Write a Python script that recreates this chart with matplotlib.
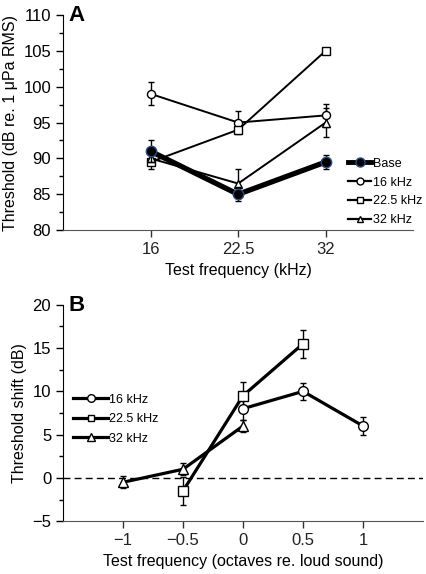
import numpy as np
import matplotlib
matplotlib.use('Agg')
import matplotlib.pyplot as plt
from matplotlib.ticker import MultipleLocator
from matplotlib.lines import Line2D

plt.rcParams['font.family'] = ['Liberation Sans', 'DejaVu Sans']

# panel A: thresholds (dB re. 1 uPa RMS) at each test frequency
freq_labels = ['16', '22.5', '32']
base = [91, 85, 89.5]
base_err = [1.5, 1.0, 1.0]
exp16 = [99, 95, 96]
exp16_err = [1.6, 1.6, 1.6]
exp22 = [89.5, 94, 105]
exp22_err = [1.0, 0.5, 0.4]
exp32 = [90, 86.5, 95]
exp32_err = [0.8, 2.0, 2.0]

# panel B: threshold shift vs octaves re. loud sound
oct16 = [0, 0.5, 1]
shift16 = [8, 10, 6]
shift16_err = [1.3, 1.0, 1.0]
oct22 = [-0.5, 0, 0.5]
shift22 = [-1.5, 9.5, 15.5]
shift22_err = [1.6, 1.6, 1.6]
oct32 = [-1, -0.5, 0]
shift32 = [-0.5, 1.0, 6.0]
shift32_err = [0.7, 0.7, 0.7]

fig = plt.figure(figsize=(4.26, 5.74), dpi=100)
axA = fig.add_axes([0.148, 0.599, 0.822, 0.375])
axB = fig.add_axes([0.148, 0.092, 0.845, 0.377])

x = np.arange(len(freq_labels))
ekw = dict(ecolor='black', elinewidth=1, capsize=2, capthick=1)

axA.errorbar(x, base, yerr=base_err, color='black', lw=3.8, marker='o', ms=7.5,
             mfc='black', mec='#2b4d7e', mew=1, zorder=5, **ekw)
axA.errorbar(x, exp16, yerr=exp16_err, color='black', lw=1.4, marker='o', ms=5.8,
             mfc='white', mec='black', mew=1, **ekw)
axA.errorbar(x, exp22, yerr=exp22_err, color='black', lw=1.4, marker='s', ms=5.2,
             mfc='white', mec='black', mew=1, **ekw)
axA.errorbar(x, exp32, yerr=exp32_err, color='black', lw=1.4, marker='^', ms=5.8,
             mfc='white', mec='black', mew=1, **ekw)

axA.set_xlim(-1, 3)
axA.set_ylim(80, 110)
axA.set_xticks(x)
axA.set_xticklabels(freq_labels)
axA.yaxis.set_major_locator(MultipleLocator(5))
axA.yaxis.set_minor_locator(MultipleLocator(2.5))
axA.set_xlabel('Test frequency (kHz)', fontsize=11.5)
axA.set_ylabel('Threshold (dB re. 1 \u03bcPa RMS)', fontsize=11.5)
axA.text(0.014, 1.045, 'A', transform=axA.transAxes, fontsize=16, fontweight='bold',
         va='top', ha='left')

handlesA = [
    Line2D([], [], color='black', lw=3.5, marker='o', ms=6.5, mfc='black', mec='#2b4d7e'),
    Line2D([], [], color='black', lw=1.6, marker='o', ms=5, mfc='white', mec='black'),
    Line2D([], [], color='black', lw=1.6, marker='s', ms=4.5, mfc='white', mec='black'),
    Line2D([], [], color='black', lw=1.6, marker='^', ms=5, mfc='white', mec='black'),
]
axA.legend(handlesA, ['Base', '16 kHz', '22.5 kHz', '32 kHz'], loc='upper left',
           bbox_to_anchor=(0.815, 0.337), frameon=False, fontsize=9,
           handlelength=1.8, handletextpad=0.15, labelspacing=0.55,
           borderaxespad=0, borderpad=0)

axB.errorbar(oct16, shift16, yerr=shift16_err, color='black', lw=2.3, marker='o',
             ms=7, mfc='white', mec='black', mew=1, **ekw)
axB.errorbar(oct22, shift22, yerr=shift22_err, color='black', lw=2.3, marker='s',
             ms=6.5, mfc='white', mec='black', mew=1, **ekw)
axB.errorbar(oct32, shift32, yerr=shift32_err, color='black', lw=2.3, marker='^',
             ms=7, mfc='white', mec='black', mew=1, **ekw)
axB.axhline(0, color='black', lw=1, ls=(0, (5, 3)), zorder=0)

axB.set_xlim(-1.5, 1.5)
axB.set_ylim(-5, 20)
axB.set_xticks([-1, -0.5, 0, 0.5, 1])
axB.set_xticklabels(['\u22121', '\u22120.5', '0', '0.5', '1'])
axB.yaxis.set_minor_locator(MultipleLocator(2.5))
axB.set_yticks([-5, 0, 5, 10, 15, 20])
axB.set_yticklabels(['\u22125', '0', '5', '10', '15', '20'])
axB.set_xlabel('Test frequency (octaves re. loud sound)', fontsize=11.5)
axB.set_ylabel('Threshold shift (dB)', fontsize=11.5)
axB.text(0.014, 1.045, 'B', transform=axB.transAxes, fontsize=16, fontweight='bold',
         va='top', ha='left')

handlesB = [
    Line2D([], [], color='black', lw=2.3, marker='o', ms=5.5, mfc='white', mec='black'),
    Line2D([], [], color='black', lw=2.3, marker='s', ms=5, mfc='white', mec='black'),
    Line2D([], [], color='black', lw=2.3, marker='^', ms=5.5, mfc='white', mec='black'),
]
axB.legend(handlesB, ['16 kHz', '22.5 kHz', '32 kHz'], loc='upper left',
           bbox_to_anchor=(0.028, 0.59), frameon=False, fontsize=9,
           handlelength=2.8, handletextpad=0.1, labelspacing=0.6,
           borderaxespad=0, borderpad=0)

for ax in (axA, axB):
    ax.spines['top'].set_visible(False)
    ax.spines['right'].set_visible(False)
    ax.spines['bottom'].set_color('#555555')
    ax.tick_params(axis='both', labelsize=12, color='black', length=5, width=1)
    ax.tick_params(axis='y', which='minor', length=3, width=1)
    ax.tick_params(axis='x', colors='#333333', labelcolor='#222222')

fig.savefig('out.png', dpi=100)
